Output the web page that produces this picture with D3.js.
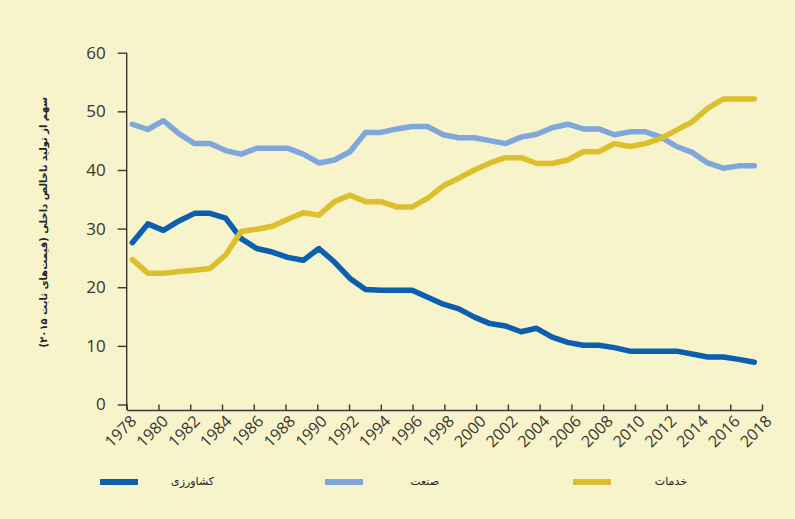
<!DOCTYPE html>
<html>
<head>
<meta charset="utf-8">
<script src="https://cdn.jsdelivr.net/npm/d3@7"></script>
<style>
  html, body { margin: 0; padding: 0; background: #f7f3cb; }
  svg { display: block; }
</style>
</head>
<body>
<div id="chart"></div>
<script>
var w = 795, h = 519;

// years 1978 - 2018
var years = d3.range(1978, 2019);
var agriculture = [27.6, 30.8, 29.7, 31.3, 32.6, 32.6, 31.8, 28.3, 26.6, 26.0, 25.1, 24.6, 26.6, 24.3, 21.5, 19.6, 19.5, 19.5, 19.5, 18.3,
  17.1, 16.3, 14.9, 13.8, 13.4, 12.4, 13.0, 11.5, 10.6, 10.1, 10.1, 9.7, 9.1, 9.1, 9.1, 9.1, 8.6, 8.1, 8.1, 7.7, 7.2];
var industry = [47.8, 46.9, 48.4, 46.2, 44.5, 44.5, 43.3, 42.7, 43.7, 43.7, 43.7, 42.7, 41.2, 41.7, 43.1, 46.4, 46.4, 47.0, 47.4, 47.4,
  46.0, 45.5, 45.5, 45.0, 44.5, 45.6, 46.1, 47.2, 47.8, 47.0, 47.0, 46.0, 46.5, 46.5, 45.6, 44.0, 43.0, 41.2, 40.3, 40.7, 40.7];
var services = [24.7, 22.4, 22.4, 22.7, 22.9, 23.2, 25.5, 29.5, 29.9, 30.4, 31.6, 32.7, 32.3, 34.6, 35.7, 34.6, 34.6, 33.7, 33.7, 35.2,
  37.3, 38.6, 40.0, 41.2, 42.1, 42.1, 41.1, 41.1, 41.7, 43.1, 43.1, 44.5, 44.0, 44.5, 45.4, 46.8, 48.2, 50.5, 52.1, 52.1, 52.1];

var seriesNames = ["کشاورزی", "صنعت", "خدمات"];
var seriesColors = ["#0b5fae", "#7fa7dc", "#dcbf2b"];
var yTicks = [0, 10, 20, 30, 40, 50, 60];
var xTicks = d3.range(1978, 2019, 2);
var yTitle = "سهم از تولید ناخالص داخلی (قیمت‌های ثابت ۲۰۱۵)";

var series = [agriculture, industry, services];

var svg = d3.select("#chart").append("svg")
  .attr("width", w)
  .attr("height", h);

svg.append("rect").attr("width", w).attr("height", h).attr("fill", "#f7f3cb");

var x = d3.scaleLinear().domain([1978, 2018]).range([126.7, 762]);
// the lines sit a little inside the axis ends
var xData = d3.scaleLinear().domain([1978, 2018]).range([132.3, 754.3]);
var y = d3.scaleLinear().domain([0, 60]).range([404.5, 52.7]);

var axisColor = "#3b3631";
var textColor = "#3a3530";

// y axis
var yAxis = svg.append("g")
  .attr("transform", "translate(" + x(1978) + ",0)")
  .call(d3.axisLeft(y).tickValues(yTicks).tickSize(9).tickPadding(12).tickSizeOuter(0));
yAxis.select(".domain").attr("stroke", axisColor).attr("stroke-width", 1.4)
  .attr("d", "M0," + y(60) + "V" + (y(0) + 5.5));
yAxis.selectAll(".tick line").attr("stroke", axisColor).attr("stroke-width", 1.4);
yAxis.selectAll(".tick text")
  .attr("fill", textColor)
  .style("font-family", "'Open Sans', sans-serif")
  .style("font-size", "17px");

// x axis: line a few px under zero, ticks pointing up
var xAxis = svg.append("g")
  .attr("transform", "translate(0," + (y(0) + 5.5) + ")")
  .call(d3.axisBottom(x).tickValues(xTicks).tickFormat(d3.format("d")).tickSize(-5.5).tickPadding(10).tickSizeOuter(0));
xAxis.select(".domain").attr("stroke", axisColor).attr("stroke-width", 1.4);
xAxis.selectAll(".tick line").attr("stroke", axisColor).attr("stroke-width", 1.4);
xAxis.selectAll(".tick text")
  .attr("fill", textColor)
  .attr("text-anchor", "end")
  .attr("x", -1.5)
  .attr("y", 4)
  .attr("dy", "0.75em")
  .attr("transform", "rotate(-45)")
  .style("font-family", "'Open Sans', sans-serif")
  .style("font-size", "16px");

// y title
svg.append("text")
  .attr("transform", "translate(47," + y(31.1) + ") rotate(-90)")
  .attr("text-anchor", "middle")
  .attr("direction", "rtl")
  .attr("fill", "#222")
  .style("font-family", "'DejaVu Sans', sans-serif")
  .style("font-size", "10px")
  .style("font-weight", "bold")
  .text(yTitle);

// lines
var line = d3.line()
  .x(function (d, i) { return xData(years[i]); })
  .y(function (d) { return y(d); });

svg.append("g").selectAll("path")
  .data(series)
  .enter().append("path")
  .attr("d", line)
  .attr("fill", "none")
  .attr("stroke", function (d, i) { return seriesColors[i]; })
  .attr("stroke-width", 5.5)
  .attr("stroke-linejoin", "round")
  .attr("stroke-linecap", "round");

// legend
var legendX = [100, 325, 573];
var legend = svg.append("g").selectAll("g")
  .data(seriesNames)
  .enter().append("g")
  .attr("transform", function (d, i) { return "translate(" + legendX[i] + ",482)"; });

legend.append("rect")
  .attr("x", 0).attr("y", -3)
  .attr("width", 38).attr("height", 6)
  .attr("fill", function (d, i) { return seriesColors[i]; });

legend.append("text")
  .attr("x", 114)
  .attr("y", 3)
  .attr("text-anchor", "start")
  .attr("direction", "rtl")
  .attr("fill", "#222")
  .style("font-family", "'DejaVu Sans', sans-serif")
  .style("font-size", "11px")
  .text(function (d) { return d; });
</script>
</body>
</html>
